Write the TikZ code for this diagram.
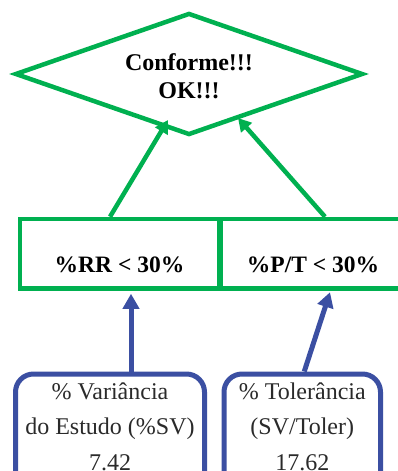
\documentclass[tikz,border=0pt]{standalone}
\usepackage{fontspec}
\setmainfont{Liberation Serif}
\usetikzlibrary{shapes.geometric,arrows.meta,calc}
\definecolor{okgreen}{HTML}{00B050}
\definecolor{boxblue}{HTML}{3B4FA2}
\definecolor{txtgray}{HTML}{2A2A2A}
\begin{document}
\begin{tikzpicture}[x=1pt,y=-1pt,
  greenline/.style={draw=okgreen,line width=4.5pt},
  okshape/.style={greenline,diamond,inner sep=0pt,minimum width=348pt,minimum height=122pt},
  testbox/.style={greenline,rectangle,inner sep=0pt,minimum height=69.5pt},
  valbox/.style={draw=boxblue,line width=5pt,rounded corners=18pt,minimum width=189pt,minimum height=116pt,inner sep=0pt},
  boldtxt/.style={font=\fontsize{23.5}{28}\selectfont\bfseries,inner sep=0pt},
  valtxt/.style={font=\fontsize{24}{35.5}\selectfont,text=txtgray,align=center,inner sep=0pt},
  garrow/.style={draw=okgreen,line width=4.5pt,-{Triangle[length=13pt,width=14pt]}},
  barrow/.style={draw=boxblue,line width=5pt,-{Triangle[length=15pt,width=16pt]}}]
\useasboundingbox (0,0) rectangle (398,471);
\clip (0,0) rectangle (398,471);
% decision
\node[okshape] (ok) at (189,74) {};
\node[font=\fontsize{24}{28}\selectfont\bfseries,align=center,inner sep=0pt,anchor=base] (oktxt) at (189,98) {Conforme!!!\\OK!!!};
% criteria boxes
\node[testbox,minimum width=199pt] (rr) at (119.5,253.75) {};
\node[testbox,minimum width=184pt] (pt) at (313,253.75) {};
\node[boldtxt,anchor=base] (rrt) at (119.5,272) {\%RR < 30\%};
\node[boldtxt,anchor=base] (ptt) at (313,272) {\%P/T < 30\%};
% value boxes
\node[valbox] (lb) at (110,432) {};
\node[valbox,minimum width=156.5pt] (rb) at (302.25,432) {};
\node[valtxt] (lbt) at (110,426.5) {\% Variância\\do Estudo (\%SV)\\7.42};
\node[valtxt] (rbt) at (302.25,426.5) {\% Tolerância\\(SV/Toler)\\17.62};
% connectors
\draw[garrow] ([xshift=-9.5pt]rr.north) -- ([shift={(-21,46)}]ok.center);
\draw[garrow] ([xshift=12pt]pt.north) -- ([shift={(49,44)}]ok.center);
\draw[barrow] ([xshift=21pt]lb.north) -- ([xshift=11.5pt,yshift=-3pt]rr.south);
\draw[barrow] ([xshift=2pt]rb.north) -- ([xshift=17pt,yshift=-1.5pt]pt.south);
\end{tikzpicture}
\end{document}
